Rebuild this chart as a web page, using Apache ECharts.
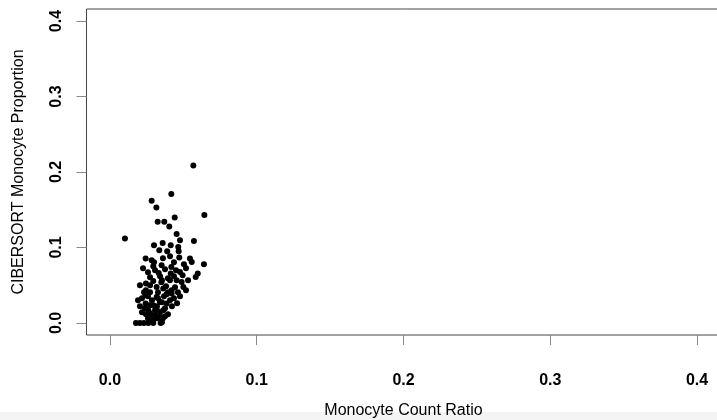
<!DOCTYPE html>
<html>
<head>
<meta charset="utf-8">
<script src="https://cdn.jsdelivr.net/npm/echarts@6/dist/echarts.min.js"></script>
<style>html,body{margin:0;padding:0;background:#fff;}#c{width:717px;height:420px;}</style>
</head>
<body>
<div id="c"></div>
<script>
var xTicks = [0, 0.1, 0.2, 0.3, 0.4];
var yTicks = [0, 0.1, 0.2, 0.3, 0.4];
var xTitle = 'Monocyte Count Ratio';
var yTitle = 'CIBERSORT Monocyte Proportion';
var countRatio = [
 0.0568, 0.0418, 0.0284, 0.0316, 0.0643, 0.0325, 0.0370, 0.0441, 0.0404, 0.0102,
 0.0454, 0.0477, 0.0572, 0.0300, 0.0359, 0.0414, 0.0465, 0.0336, 0.0390, 0.0468,
 0.0243, 0.0284, 0.0409, 0.0472, 0.0545, 0.0557, 0.0640, 0.0295, 0.0352, 0.0418,
 0.0332, 0.0414, 0.0477, 0.0495, 0.0584, 0.0598, 0.0245, 0.0295, 0.0350, 0.0409,
 0.0454, 0.0488, 0.0500, 0.0245, 0.0318, 0.0363, 0.0420, 0.0243, 0.0318, 0.0386,
 0.0420, 0.0243, 0.0295, 0.0340, 0.0386, 0.0261, 0.0318, 0.0363, 0.0273, 0.0307,
 0.0340, 0.0177, 0.0204, 0.0232, 0.0261, 0.0295, 0.0345,
 0.0225, 0.0259, 0.0273, 0.0307, 0.0341, 0.0375, 0.0395, 0.0436, 0.0450, 0.0518,
 0.0532, 0.0204, 0.0273, 0.0327, 0.0354, 0.0382, 0.0395, 0.0443, 0.0463, 0.0218,
 0.0259, 0.0286, 0.0327, 0.0354, 0.0368, 0.0409, 0.0436, 0.0204, 0.0239, 0.0273,
 0.0307, 0.0341, 0.0375, 0.0395, 0.0422, 0.0218, 0.0259, 0.0293, 0.0320, 0.0354,
 0.0375, 0.0191, 0.0232, 0.0273, 0.0300, 0.0361, 0.0436, 0.0504, 0.0518, 0.0477,
 0.0457, 0.0273, 0.0245, 0.0320, 0.0361
];
var cibersortProp = [
 0.2085, 0.1710, 0.1620, 0.1530, 0.1430, 0.1340, 0.1340, 0.1396, 0.1277, 0.1120,
 0.1180, 0.1095, 0.1086, 0.1030, 0.1060, 0.1030, 0.1007, 0.0963, 0.0950, 0.0950,
 0.0853, 0.0830, 0.0883, 0.0866, 0.0853, 0.0808, 0.0777, 0.0751, 0.0764, 0.0742,
 0.0662, 0.0654, 0.0675, 0.0632, 0.0609, 0.0654, 0.0522, 0.0556, 0.0539, 0.0566,
 0.0566, 0.0543, 0.0477, 0.0433, 0.0477, 0.0456, 0.0433, 0.0367, 0.0344, 0.0380,
 0.0390, 0.0257, 0.0234, 0.0278, 0.0257, 0.0168, 0.0177, 0.0168, 0.0080, 0.0102,
 0.0080, 0.0000, 0.0000, 0.0000, 0.0000, 0.0000, 0.0000,
 0.0725, 0.0672, 0.0605, 0.0698, 0.0619, 0.0711, 0.0592, 0.0619, 0.0698, 0.0725,
 0.0566, 0.0499, 0.0499, 0.0407, 0.0566, 0.0486, 0.0407, 0.0473, 0.0407, 0.0327,
 0.0354, 0.0301, 0.0327, 0.0274, 0.0354, 0.0301, 0.0327, 0.0221, 0.0195, 0.0234,
 0.0168, 0.0142, 0.0195, 0.0115, 0.0221, 0.0142, 0.0062, 0.0036, 0.0062, 0.0009,
 0.0089, 0.0301, 0.0407, 0.0407, 0.0804, 0.0857, 0.0804, 0.0777, 0.0433, 0.0354,
 0.0261, 0.0128, 0.0115, 0.0221, 0.0062
];
var points = countRatio.map(function (v, i) { return [v, cibersortProp[i]]; });
var fmt = function (v) { return v.toFixed(1); };
var chart = echarts.init(document.getElementById('c'), null, {renderer: 'canvas'});
chart.setOption({
  animation: false,
  backgroundColor: '#fff',
  grid: {left: 86.5, top: 9, width: 634, height: 326, show: true, borderColor: '#444', borderWidth: 1, containLabel: false, outerBoundsMode: 'none'},
  xAxis: {
    type: 'value', min: -0.016, max: 0.416,
    name: xTitle, nameLocation: 'middle', nameGap: 68,
    nameTextStyle: {fontFamily: 'Liberation Sans', fontSize: 16, color: '#000'},
    axisLine: {show: false, onZero: false},
    axisTick: {show: true, inside: false, length: 10, customValues: xTicks, lineStyle: {color: '#888', width: 1}},
    axisLabel: {customValues: xTicks, formatter: fmt, margin: 38, fontFamily: 'Liberation Sans', fontWeight: 'bold', fontSize: 16, color: '#000'},
    splitLine: {show: false}
  },
  yAxis: {
    type: 'value', min: -0.016, max: 0.416,
    name: yTitle, nameLocation: 'middle', nameGap: 60,
    nameTextStyle: {fontFamily: 'Liberation Sans', fontSize: 16, color: '#000'},
    axisLine: {show: false, onZero: false},
    axisTick: {show: true, inside: false, length: 10, customValues: yTicks, lineStyle: {color: '#888', width: 1}},
    axisLabel: {customValues: yTicks, formatter: fmt, rotate: 90, margin: 22, fontFamily: 'Liberation Sans', fontWeight: 'bold', fontSize: 16, color: '#000'},
    splitLine: {show: false}
  },
  graphic: [{type: 'rect', left: 0, top: 412, shape: {width: 717, height: 8}, style: {fill: '#f4f4f4'}, z: -10}],
  series: [{
    type: 'scatter', data: points, symbol: 'circle', symbolSize: 6,
    itemStyle: {color: '#000', opacity: 1}
  }]
});
</script>
</body>
</html>
